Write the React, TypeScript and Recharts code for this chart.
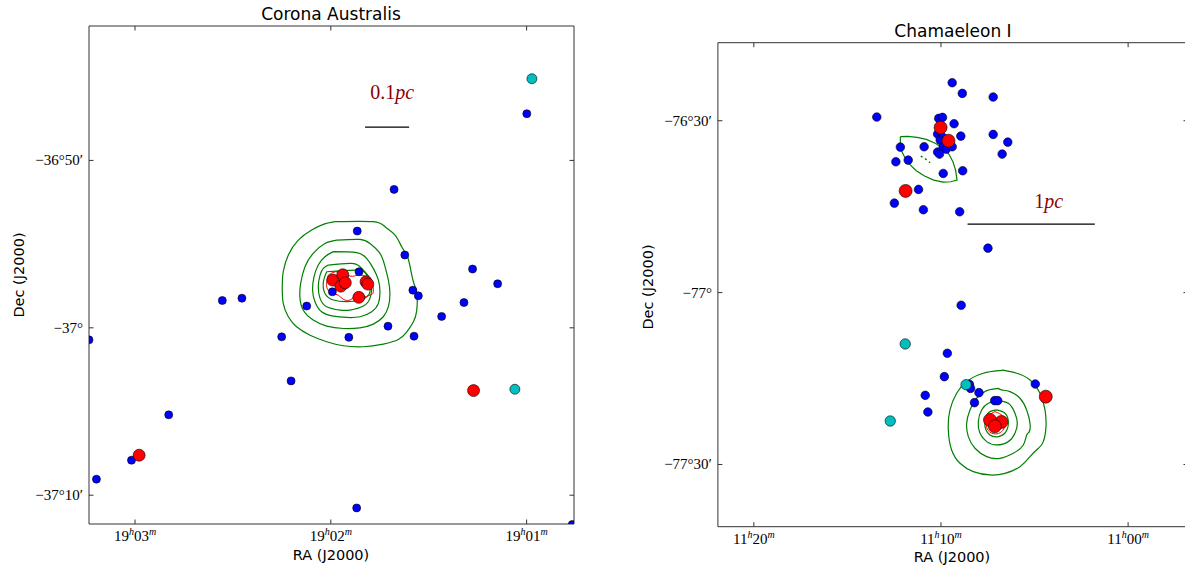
import React from 'react';
import { ScatterChart, Scatter, XAxis, YAxis } from 'recharts';

// Corona Australis: x = RA minutes past 19h, y = Dec in arcmin (-50 = -36°50′, -60 = -37°00′)
const caBlue = [
  { x: 0.999, y: -47.21 }, { x: 1.677, y: -51.73 }, { x: 1.865, y: -54.22 }, { x: 1.622, y: -55.65 },
  { x: 1.276, y: -56.49 }, { x: 1.148, y: -57.37 }, { x: 1.856, y: -56.65 }, { x: 1.992, y: -57.85 },
  { x: 1.581, y: -57.75 }, { x: 1.553, y: -58.09 }, { x: 2.123, y: -58.7 }, { x: 1.32, y: -58.49 },
  { x: 1.434, y: -59.32 }, { x: 1.708, y: -59.9 }, { x: 2.251, y: -60.54 }, { x: 1.908, y: -60.57 },
  { x: 1.575, y: -60.5 }, { x: 2.554, y: -58.37 }, { x: 2.454, y: -58.23 }, { x: 3.235, y: -60.72 },
  { x: 2.203, y: -63.17 }, { x: 2.828, y: -65.2 }, { x: 3.018, y: -67.91 }, { x: 3.197, y: -69.04 },
  { x: 1.868, y: -70.76 }, { x: 0.767, y: -71.75 },
];
const caCyan = [{ x: 0.973, y: -45.12 }, { x: 1.06, y: -63.67 }];
const caRed = [
  { x: 1.99, y: -57.15 }, { x: 1.939, y: -56.83 }, { x: 1.949, y: -57.51 }, { x: 1.926, y: -57.31 },
  { x: 1.82, y: -57.25 }, { x: 1.811, y: -57.39 }, { x: 1.857, y: -58.18 }, { x: 1.271, y: -63.75 },
  { x: 2.979, y: -67.61 },
];
const caContour1 = [
  { x: 1.979, y: -53.66 }, { x: 1.783, y: -53.66 }, { x: 1.723, y: -53.96 }, { x: 1.672, y: -54.46 },
  { x: 1.638, y: -55.16 }, { x: 1.612, y: -55.65 }, { x: 1.595, y: -56.35 }, { x: 1.578, y: -57.25 },
  { x: 1.561, y: -57.95 }, { x: 1.561, y: -58.94 }, { x: 1.578, y: -59.64 }, { x: 1.612, y: -60.24 },
  { x: 1.655, y: -60.7 }, { x: 1.732, y: -60.97 }, { x: 1.834, y: -61.13 }, { x: 1.936, y: -61.07 },
  { x: 2.021, y: -60.83 }, { x: 2.106, y: -60.44 }, { x: 2.175, y: -59.94 }, { x: 2.217, y: -59.34 },
  { x: 2.243, y: -58.54 }, { x: 2.248, y: -57.55 }, { x: 2.243, y: -56.65 }, { x: 2.217, y: -55.65 },
  { x: 2.166, y: -54.76 }, { x: 2.098, y: -54.16 }, { x: 2.038, y: -53.82 }, { x: 1.979, y: -53.66 },
];
const caContour2 = [
  { x: 1.97, y: -54.76 }, { x: 1.851, y: -54.72 }, { x: 1.8, y: -54.96 }, { x: 1.749, y: -55.55 },
  { x: 1.723, y: -56.35 }, { x: 1.706, y: -57.15 }, { x: 1.698, y: -57.95 }, { x: 1.706, y: -58.74 },
  { x: 1.732, y: -59.34 }, { x: 1.783, y: -59.78 }, { x: 1.851, y: -60.0 }, { x: 1.936, y: -60.04 },
  { x: 2.021, y: -59.9 }, { x: 2.09, y: -59.54 }, { x: 2.141, y: -58.94 }, { x: 2.158, y: -58.15 },
  { x: 2.154, y: -57.35 }, { x: 2.132, y: -56.35 }, { x: 2.09, y: -55.55 }, { x: 2.03, y: -54.96 },
  { x: 1.97, y: -54.76 },
];
const caContour3 = [
  { x: 1.987, y: -55.45 }, { x: 1.868, y: -55.51 }, { x: 1.817, y: -55.85 }, { x: 1.783, y: -56.45 },
  { x: 1.757, y: -57.15 }, { x: 1.749, y: -57.85 }, { x: 1.757, y: -58.54 }, { x: 1.791, y: -59.04 },
  { x: 1.851, y: -59.34 }, { x: 1.919, y: -59.38 }, { x: 1.987, y: -59.3 }, { x: 2.047, y: -59.04 },
  { x: 2.081, y: -58.44 }, { x: 2.093, y: -57.75 }, { x: 2.086, y: -56.95 }, { x: 2.064, y: -56.25 },
  { x: 2.03, y: -55.75 }, { x: 1.987, y: -55.45 },
];
const caContour4 = [
  { x: 2.013, y: -56.25 }, { x: 1.893, y: -56.15 }, { x: 1.842, y: -56.45 }, { x: 1.8, y: -57.05 },
  { x: 1.791, y: -57.65 }, { x: 1.8, y: -58.24 }, { x: 1.834, y: -58.7 }, { x: 1.902, y: -58.94 },
  { x: 1.953, y: -58.94 }, { x: 2.021, y: -58.74 }, { x: 2.055, y: -58.24 }, { x: 2.064, y: -57.55 },
  { x: 2.055, y: -56.85 }, { x: 2.038, y: -56.45 }, { x: 2.013, y: -56.25 },
];
const caContour5 = [
  { x: 2.021, y: -56.65 }, { x: 1.868, y: -56.55 }, { x: 1.817, y: -56.85 }, { x: 1.8, y: -57.55 },
  { x: 1.808, y: -58.05 }, { x: 1.851, y: -58.34 }, { x: 1.919, y: -58.44 }, { x: 1.987, y: -58.34 },
  { x: 2.03, y: -57.95 }, { x: 2.038, y: -57.25 }, { x: 2.021, y: -56.65 },
];
const caRedContour = [
  { x: 2.013, y: -56.85 }, { x: 1.962, y: -56.65 }, { x: 1.902, y: -56.91 }, { x: 1.859, y: -56.85 },
  { x: 1.817, y: -56.95 }, { x: 1.791, y: -57.25 }, { x: 1.783, y: -57.85 }, { x: 1.8, y: -58.05 },
  { x: 1.834, y: -58.15 }, { x: 1.876, y: -58.15 }, { x: 1.902, y: -58.34 }, { x: 1.936, y: -58.3 },
  { x: 1.962, y: -58.05 }, { x: 1.996, y: -57.91 }, { x: 2.021, y: -57.55 }, { x: 2.013, y: -56.85 },
];
const caScaleBar = [{ x: 1.825, y: -48.01 }, { x: 1.6, y: -48.01 }];
const caScaleText = [{ x: 1.687, y: -45.92, num: '0.1', unit: 'pc' }];
const caRaTicks = [
  { v: 3, h: '19', m: '03' },
  { v: 2, h: '19', m: '02' },
  { v: 1, h: '19', m: '01' },
];
const caDecTicks = [
  { v: -50, label: '\u221236\u00b050\u2032' },
  { v: -60, label: '\u221237\u00b0' },
  { v: -70, label: '\u221237\u00b010\u2032' },
];

// Chamaeleon I: x = RA minutes past 11h, y = Dec in arcmin (-30 = -76°30′, -60 = -77°, -90 = -77°30′)
const chaBlue = [
  { x: 9.4, y: -23.36 }, { x: 8.86, y: -25.23 }, { x: 7.21, y: -25.87 }, { x: 13.43, y: -29.36 },
  { x: 10.12, y: -29.59 }, { x: 9.92, y: -29.42 }, { x: 9.3, y: -30.52 }, { x: 10.18, y: -32.33 },
  { x: 9.94, y: -32.79 }, { x: 10.04, y: -33.38 }, { x: 8.94, y: -32.68 }, { x: 7.21, y: -32.39 },
  { x: 6.43, y: -33.73 }, { x: 6.73, y: -35.82 }, { x: 12.17, y: -34.6 }, { x: 10.9, y: -34.54 },
  { x: 9.88, y: -34.54 }, { x: 9.72, y: -34.95 }, { x: 9.4, y: -34.54 }, { x: 10.18, y: -35.47 },
  { x: 10.08, y: -35.82 }, { x: 12.41, y: -37.16 }, { x: 11.75, y: -36.87 }, { x: 9.88, y: -39.2 },
  { x: 8.84, y: -38.73 }, { x: 11.2, y: -41.99 }, { x: 12.49, y: -44.38 }, { x: 10.94, y: -45.54 },
  { x: 9.0, y: -45.89 }, { x: 7.49, y: -52.24 }, { x: 8.92, y: -62.21 }, { x: 9.66, y: -70.59 },
  { x: 9.82, y: -74.67 }, { x: 8.48, y: -76.01 }, { x: 8.42, y: -76.71 }, { x: 7.97, y: -77.46 },
  { x: 8.21, y: -79.21 }, { x: 7.13, y: -78.86 }, { x: 6.97, y: -78.86 }, { x: 10.84, y: -77.93 },
  { x: 10.7, y: -80.84 }, { x: 4.96, y: -75.95 },
];
const chaCyan = [{ x: 11.91, y: -68.96 }, { x: 8.66, y: -76.07 }, { x: 12.71, y: -82.41 }];
const chaRed = [
  { x: 10.02, y: -31.18 }, { x: 9.6, y: -33.49 }, { x: 11.89, y: -42.25 }, { x: 4.4, y: -78.16 },
  { x: 7.38, y: -82.24 }, { x: 6.77, y: -82.58 }, { x: 7.12, y: -83.33 },
];
const chaLens = [
  { x: 12.17, y: -32.79 }, { x: 11.77, y: -32.74 }, { x: 11.28, y: -32.91 }, { x: 10.78, y: -33.26 },
  { x: 10.28, y: -33.96 }, { x: 9.88, y: -34.83 }, { x: 9.58, y: -35.82 }, { x: 9.36, y: -37.16 },
  { x: 9.22, y: -38.61 }, { x: 9.14, y: -40.36 }, { x: 9.48, y: -40.65 }, { x: 9.88, y: -40.71 },
  { x: 10.38, y: -40.36 }, { x: 10.88, y: -39.66 }, { x: 11.32, y: -38.73 }, { x: 11.67, y: -37.63 },
  { x: 11.93, y: -36.4 }, { x: 12.11, y: -35.24 }, { x: 12.17, y: -34.54 }, { x: 12.17, y: -32.79 },
];
const chaLensInner = [{ x: 11.08, y: -36.17 }, { x: 10.82, y: -36.7 }, { x: 10.58, y: -37.33 }];
const chaContour1 = [
  { x: 6.758, y: -73.5 }, { x: 5.956, y: -74.08 }, { x: 5.243, y: -75.24 }, { x: 4.709, y: -77.57 },
  { x: 4.442, y: -80.48 }, { x: 4.388, y: -83.39 }, { x: 4.531, y: -86.01 }, { x: 4.798, y: -87.17 },
  { x: 5.243, y: -88.63 }, { x: 5.778, y: -90.38 }, { x: 6.579, y: -91.54 }, { x: 7.381, y: -91.83 },
  { x: 8.272, y: -91.25 }, { x: 8.985, y: -89.79 }, { x: 9.43, y: -87.47 }, { x: 9.608, y: -83.97 },
  { x: 9.519, y: -80.48 }, { x: 9.163, y: -77.57 }, { x: 8.628, y: -75.53 }, { x: 7.737, y: -74.08 },
  { x: 6.847, y: -73.61 }, { x: 6.758, y: -73.5 },
];
const chaContour2 = [
  { x: 6.936, y: -76.7 }, { x: 6.758, y: -76.99 }, { x: 6.312, y: -77.28 }, { x: 5.778, y: -78.44 },
  { x: 5.421, y: -80.48 }, { x: 5.243, y: -82.81 }, { x: 5.279, y: -84.26 }, { x: 5.421, y: -84.85 },
  { x: 5.6, y: -86.59 }, { x: 6.134, y: -88.05 }, { x: 6.847, y: -88.92 }, { x: 7.559, y: -88.63 },
  { x: 8.183, y: -87.17 }, { x: 8.539, y: -85.14 }, { x: 8.628, y: -82.81 }, { x: 8.45, y: -80.48 },
  { x: 8.094, y: -78.44 }, { x: 7.559, y: -77.11 }, { x: 6.936, y: -76.7 },
];
const chaContour3 = [
  { x: 7.025, y: -78.85 }, { x: 6.401, y: -79.32 }, { x: 6.045, y: -81.06 }, { x: 5.92, y: -82.81 },
  { x: 6.045, y: -84.56 }, { x: 6.401, y: -86.01 }, { x: 7.025, y: -86.59 }, { x: 7.559, y: -86.01 },
  { x: 7.916, y: -84.56 }, { x: 8.005, y: -82.52 }, { x: 7.827, y: -80.48 }, { x: 7.47, y: -79.32 },
  { x: 7.025, y: -78.85 },
];
const chaContour4 = [
  { x: 7.025, y: -80.48 }, { x: 6.579, y: -81.06 }, { x: 6.401, y: -82.52 }, { x: 6.526, y: -84.26 },
  { x: 6.936, y: -85.14 }, { x: 7.381, y: -84.85 }, { x: 7.648, y: -83.39 }, { x: 7.595, y: -81.64 },
  { x: 7.381, y: -80.77 }, { x: 7.025, y: -80.48 },
];
const chaRedContour = [
  { x: 7.114, y: -80.77 }, { x: 6.669, y: -81.64 }, { x: 6.579, y: -83.1 }, { x: 6.758, y: -84.26 },
  { x: 7.114, y: -84.67 }, { x: 7.47, y: -84.09 }, { x: 7.595, y: -82.81 }, { x: 7.47, y: -81.53 },
  { x: 7.114, y: -80.77 },
];
const chaScaleBar = [{ x: 8.58, y: -48.04 }, { x: 1.78, y: -48.04 }];
const chaScaleText = [{ x: 4.24, y: -44.03, num: '1', unit: 'pc' }];
const chaRaTicks = [
  { v: 20, h: '11', m: '20' },
  { v: 10, h: '11', m: '10' },
  { v: 0, h: '11', m: '00' },
];
const chaDecTicks = [
  { v: -30, label: '\u221276\u00b030\u2032' },
  { v: -60, label: '\u221277\u00b0' },
  { v: -90, label: '\u221277\u00b030\u2032' },
];

const SERIF = '"Liberation Serif", "DejaVu Serif", serif';
const SANS = '"DejaVu Sans", Verdana, sans-serif';
const AXIS = '#333';
const TICK = 4.5;
const GREEN = '#008000';

const dot = (fill: string, r: number) => (p: any) => (
  <circle cx={p.cx} cy={p.cy} r={r} fill={fill} stroke="#000" strokeWidth={0.6} />
);
const noDot = () => <g />;

const bottomTick = (ticks: any[]) => (p: any) => {
  const t = ticks.find((d) => d.v === p.payload.value);
  return (
    <g>
      <line x1={p.x} y1={p.y} x2={p.x} y2={p.y - TICK} stroke={AXIS} />
      {t && (
        <text x={p.x} y={p.y + 17} textAnchor="middle" fontFamily={SERIF} fontSize={15} fill="#000">
          {t.h}
          <tspan dy={-6} fontSize={10} fontStyle="italic">h</tspan>
          <tspan dy={6}>{t.m}</tspan>
          <tspan dy={-6} fontSize={10} fontStyle="italic">m</tspan>
        </text>
      )}
    </g>
  );
};
const topTick = (p: any) => (
  <line x1={p.x} y1={p.y} x2={p.x} y2={p.y + TICK} stroke={AXIS} />
);
const leftTick = (ticks: any[]) => (p: any) => {
  const t = ticks.find((d) => d.v === p.payload.value);
  return (
    <g>
      <line x1={p.x} y1={p.y} x2={p.x + TICK} y2={p.y} stroke={AXIS} />
      {t && (
        <text x={p.x - 6} y={p.y + 5} textAnchor="end" fontFamily={SERIF} fontSize={15} fill="#000">
          {t.label}
        </text>
      )}
    </g>
  );
};
const rightTick = (p: any) => (
  <line x1={p.x} y1={p.y} x2={p.x - TICK} y2={p.y} stroke={AXIS} />
);
const scaleLabel = (p: any) => (
  <text x={p.cx} y={p.cy} textAnchor="middle" dominantBaseline="central" fontFamily={SERIF} fontSize={20} fill="#8b0000">
    {p.payload.num}
    <tspan fontStyle="italic">{p.payload.unit}</tspan>
  </text>
);

const contour = (data: any[], stroke: string, width: number, dash?: string) => (
  <Scatter
    data={data}
    fill="none"
    line={{ stroke, strokeWidth: width, strokeDasharray: dash }}
    lineJointType="natural"
    shape={noDot}
    isAnimationActive={false}
  />
);

const Panel = ({ left, width, margin, xDomain, yDomain, raTicks, decTicks, children }: any) => (
  <div style={{ position: 'absolute', left, top: 0 }}>
    <ScatterChart width={width} height={569} margin={margin}>
      <XAxis
        type="number"
        dataKey="x"
        domain={xDomain}
        reversed
        allowDataOverflow
        ticks={raTicks.map((t: any) => t.v)}
        interval={0}
        height={30}
        tickSize={0}
        tickMargin={0}
        axisLine={{ stroke: AXIS }}
        tickLine={false}
        tick={bottomTick(raTicks)}
      />
      <XAxis
        xAxisId="top"
        orientation="top"
        type="number"
        dataKey="x"
        domain={xDomain}
        reversed
        allowDataOverflow
        ticks={raTicks.map((t: any) => t.v)}
        interval={0}
        height={1}
        tickSize={0}
        tickMargin={0}
        axisLine={{ stroke: AXIS }}
        tickLine={false}
        tick={topTick}
      />
      <YAxis
        type="number"
        dataKey="y"
        domain={yDomain}
        allowDataOverflow
        ticks={decTicks.map((t: any) => t.v)}
        interval={0}
        width={60}
        tickSize={0}
        tickMargin={0}
        axisLine={{ stroke: AXIS }}
        tickLine={false}
        tick={leftTick(decTicks)}
      />
      <YAxis
        yAxisId="right"
        orientation="right"
        type="number"
        dataKey="y"
        domain={yDomain}
        allowDataOverflow
        ticks={decTicks.map((t: any) => t.v)}
        interval={0}
        width={1}
        tickSize={0}
        tickMargin={0}
        axisLine={{ stroke: AXIS }}
        tickLine={false}
        tick={rightTick}
      />
      {children}
    </ScatterChart>
  </div>
);

const textStyle = (x: number, y: number, size: number, rotate = false): React.CSSProperties => ({
  position: 'absolute',
  left: x,
  top: y,
  transform: `translate(-50%, -50%)${rotate ? ' rotate(-90deg)' : ''}`,
  fontFamily: SANS,
  fontSize: size,
  whiteSpace: 'nowrap',
  color: '#000',
  lineHeight: 1,
});

export default function App() {
  return (
    <div
      style={{
        position: 'fixed',
        left: 0,
        top: 0,
        width: 1185,
        height: 569,
        overflow: 'hidden',
        background: '#fff',
      }}
    >
      <Panel
        left={0}
        width={600}
        margin={{ top: 25, right: 25, bottom: 15, left: 29 }}
        xDomain={[0.758, 3.235]}
        yDomain={[-71.72, -41.97]}
        raTicks={caRaTicks}
        decTicks={caDecTicks}
      >
        {contour(caContour1, GREEN, 1.2)}
        {contour(caContour2, GREEN, 1.2)}
        {contour(caContour3, GREEN, 1.2)}
        {contour(caContour4, GREEN, 1.2)}
        {contour(caContour5, GREEN, 1.2)}
        {contour(caRedContour, '#ff0000', 1)}
        <Scatter data={caScaleBar} fill="none" line={{ stroke: '#000', strokeWidth: 1.2 }} shape={noDot} isAnimationActive={false} />
        <Scatter data={caScaleText} shape={scaleLabel} isAnimationActive={false} />
        <Scatter data={caBlue} shape={dot('#0000ff', 4)} isAnimationActive={false} />
        <Scatter data={caCyan} shape={dot('#00bfbf', 5)} isAnimationActive={false} />
        <Scatter data={caRed} shape={dot('#ff0000', 6)} isAnimationActive={false} />
      </Panel>
      <Panel
        left={600}
        width={600}
        margin={{ top: 41.7, right: 11, bottom: 12.3, left: 57.9 }}
        xDomain={[-3.2, 21.92]}
        yDomain={[-100.86, -16.38]}
        raTicks={chaRaTicks}
        decTicks={chaDecTicks}
      >
        <Scatter data={chaLens} fill="none" line={{ stroke: GREEN, strokeWidth: 1.2 }} shape={noDot} isAnimationActive={false} />
        {contour(chaLensInner, GREEN, 1.5, '2 3')}
        {contour(chaContour1, GREEN, 1.2)}
        {contour(chaContour2, GREEN, 1.2)}
        {contour(chaContour3, GREEN, 1.2)}
        {contour(chaContour4, GREEN, 1.2)}
        {contour(chaRedContour, '#ff0000', 1)}
        <Scatter data={chaScaleBar} fill="none" line={{ stroke: '#000', strokeWidth: 1.2 }} shape={noDot} isAnimationActive={false} />
        <Scatter data={chaScaleText} shape={scaleLabel} isAnimationActive={false} />
        <Scatter data={chaBlue} shape={dot('#0000ff', 4.3)} isAnimationActive={false} />
        <Scatter data={chaCyan} shape={dot('#00bfbf', 5.2)} isAnimationActive={false} />
        <Scatter data={chaRed} shape={dot('#ff0000', 6.5)} isAnimationActive={false} />
      </Panel>
      <div style={textStyle(331, 14, 17)}>Corona Australis</div>
      <div style={textStyle(331, 555, 14.5)}>RA (J2000)</div>
      <div style={textStyle(19, 275, 14.5, true)}>Dec (J2000)</div>
      <div style={textStyle(953, 31, 17)}>Chamaeleon I</div>
      <div style={textStyle(952, 557, 14.5)}>RA (J2000)</div>
      <div style={textStyle(648, 287, 14.5, true)}>Dec (J2000)</div>
    </div>
  );
}
